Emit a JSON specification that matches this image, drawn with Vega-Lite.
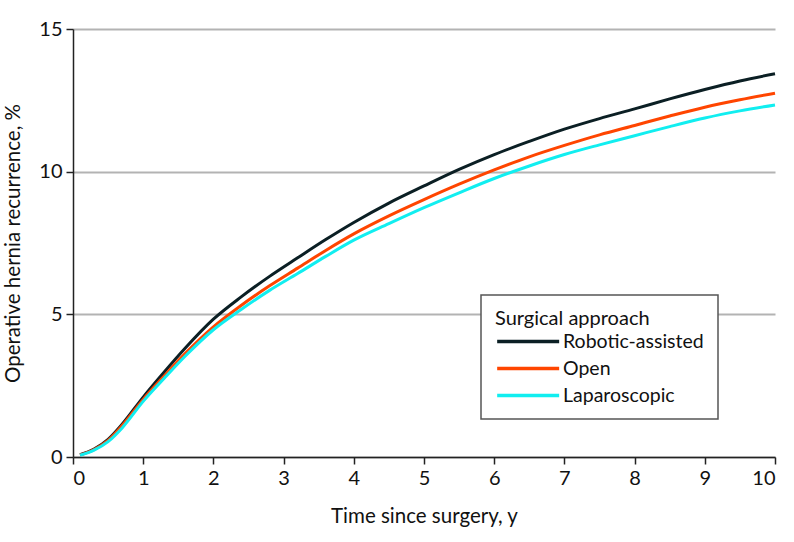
{
  "$schema": "https://vega.github.io/schema/vega-lite/v6.json",
  "autosize": {"type": "none"},
  "padding": {"left": 73, "top": 29, "right": 19, "bottom": 85},
  "width": 702,
  "height": 428,
  "background": "white",
  "config": {
    "view": {"stroke": null},
    "font": "Lato",
    "legend": {"strokeWidth": 1.5},
    "axis": {
      "domainColor": "#222222",
      "domainWidth": 1.5,
      "tickColor": "#222222",
      "tickWidth": 1.5,
      "tickSize": 7,
      "labelFontSize": 20,
      "labelColor": "#111111",
      "titleFontSize": 20.5,
      "titleFontWeight": "normal",
      "titleColor": "#111111",
      "labelPadding": 4
    }
  },
  "data": {
    "values": [
      {"t": 0.1, "g": "Robotic-assisted", "v": 0.08},
      {"t": 0.3, "g": "Robotic-assisted", "v": 0.28},
      {"t": 0.5, "g": "Robotic-assisted", "v": 0.62},
      {"t": 0.7, "g": "Robotic-assisted", "v": 1.15},
      {"t": 1.0, "g": "Robotic-assisted", "v": 2.1},
      {"t": 1.3, "g": "Robotic-assisted", "v": 2.98},
      {"t": 1.6, "g": "Robotic-assisted", "v": 3.82},
      {"t": 2.0, "g": "Robotic-assisted", "v": 4.83},
      {"t": 2.4, "g": "Robotic-assisted", "v": 5.62},
      {"t": 2.8, "g": "Robotic-assisted", "v": 6.33},
      {"t": 3.2, "g": "Robotic-assisted", "v": 6.98},
      {"t": 3.6, "g": "Robotic-assisted", "v": 7.62},
      {"t": 4.0, "g": "Robotic-assisted", "v": 8.22},
      {"t": 4.5, "g": "Robotic-assisted", "v": 8.9},
      {"t": 5.0, "g": "Robotic-assisted", "v": 9.5},
      {"t": 5.5, "g": "Robotic-assisted", "v": 10.08},
      {"t": 6.0, "g": "Robotic-assisted", "v": 10.6},
      {"t": 6.5, "g": "Robotic-assisted", "v": 11.06},
      {"t": 7.0, "g": "Robotic-assisted", "v": 11.49},
      {"t": 7.5, "g": "Robotic-assisted", "v": 11.86},
      {"t": 8.0, "g": "Robotic-assisted", "v": 12.2},
      {"t": 8.5, "g": "Robotic-assisted", "v": 12.55},
      {"t": 9.0, "g": "Robotic-assisted", "v": 12.88},
      {"t": 9.5, "g": "Robotic-assisted", "v": 13.18},
      {"t": 10.0, "g": "Robotic-assisted", "v": 13.43},
      {"t": 0.1, "g": "Open", "v": 0.07},
      {"t": 0.3, "g": "Open", "v": 0.26},
      {"t": 0.5, "g": "Open", "v": 0.58},
      {"t": 0.7, "g": "Open", "v": 1.1},
      {"t": 1.0, "g": "Open", "v": 2.02},
      {"t": 1.3, "g": "Open", "v": 2.84},
      {"t": 1.6, "g": "Open", "v": 3.63},
      {"t": 2.0, "g": "Open", "v": 4.56},
      {"t": 2.4, "g": "Open", "v": 5.32},
      {"t": 2.8, "g": "Open", "v": 6.0},
      {"t": 3.2, "g": "Open", "v": 6.62},
      {"t": 3.6, "g": "Open", "v": 7.24},
      {"t": 4.0, "g": "Open", "v": 7.82},
      {"t": 4.5, "g": "Open", "v": 8.45},
      {"t": 5.0, "g": "Open", "v": 9.02},
      {"t": 5.5, "g": "Open", "v": 9.56},
      {"t": 6.0, "g": "Open", "v": 10.06},
      {"t": 6.5, "g": "Open", "v": 10.52},
      {"t": 7.0, "g": "Open", "v": 10.92},
      {"t": 7.5, "g": "Open", "v": 11.29},
      {"t": 8.0, "g": "Open", "v": 11.62},
      {"t": 8.5, "g": "Open", "v": 11.95},
      {"t": 9.0, "g": "Open", "v": 12.26},
      {"t": 9.5, "g": "Open", "v": 12.52},
      {"t": 10.0, "g": "Open", "v": 12.75},
      {"t": 0.1, "g": "Laparoscopic", "v": 0.06},
      {"t": 0.3, "g": "Laparoscopic", "v": 0.24},
      {"t": 0.5, "g": "Laparoscopic", "v": 0.54},
      {"t": 0.7, "g": "Laparoscopic", "v": 1.02},
      {"t": 1.0, "g": "Laparoscopic", "v": 1.95},
      {"t": 1.3, "g": "Laparoscopic", "v": 2.76},
      {"t": 1.6, "g": "Laparoscopic", "v": 3.54},
      {"t": 2.0, "g": "Laparoscopic", "v": 4.46},
      {"t": 2.4, "g": "Laparoscopic", "v": 5.18},
      {"t": 2.8, "g": "Laparoscopic", "v": 5.84},
      {"t": 3.2, "g": "Laparoscopic", "v": 6.43},
      {"t": 3.6, "g": "Laparoscopic", "v": 7.03},
      {"t": 4.0, "g": "Laparoscopic", "v": 7.6},
      {"t": 4.5, "g": "Laparoscopic", "v": 8.18},
      {"t": 5.0, "g": "Laparoscopic", "v": 8.74},
      {"t": 5.5, "g": "Laparoscopic", "v": 9.26},
      {"t": 6.0, "g": "Laparoscopic", "v": 9.76},
      {"t": 6.5, "g": "Laparoscopic", "v": 10.2},
      {"t": 7.0, "g": "Laparoscopic", "v": 10.6},
      {"t": 7.5, "g": "Laparoscopic", "v": 10.94},
      {"t": 8.0, "g": "Laparoscopic", "v": 11.26},
      {"t": 8.5, "g": "Laparoscopic", "v": 11.58},
      {"t": 9.0, "g": "Laparoscopic", "v": 11.88},
      {"t": 9.5, "g": "Laparoscopic", "v": 12.13},
      {"t": 10.0, "g": "Laparoscopic", "v": 12.34}
    ]
  },
  "mark": {"type": "line", "strokeWidth": 3, "interpolate": "monotone"},
  "encoding": {
    "x": {
      "field": "t",
      "type": "quantitative",
      "scale": {"domain": [0, 10], "nice": false},
      "axis": {"values": [0, 1, 2, 3, 4, 5, 6, 7, 8, 9, 10], "grid": false, "title": "Time since surgery, y", "titlePadding": 18}
    },
    "y": {
      "field": "v",
      "type": "quantitative",
      "scale": {"domain": [0, 15], "nice": false},
      "axis": {"values": [0, 5, 10, 15], "grid": true, "gridColor": "#b3b3b3", "gridWidth": 2, "gridOpacity": 1, "title": "Operative hernia recurrence, %", "titlePadding": 15}
    },
    "color": {
      "field": "g",
      "type": "nominal",
      "sort": ["Robotic-assisted", "Open", "Laparoscopic"],
      "scale": {"domain": ["Robotic-assisted", "Open", "Laparoscopic"], "range": ["#0b1f24", "#ff4500", "#11eef0"]},
      "legend": {
        "title": "Surgical approach",
        "orient": "none",
        "legendX": 408,
        "legendY": 266,
        "padding": 14,
        "fillColor": "white",
        "strokeColor": "#555555",
        "titleFontSize": 20,
        "titleFontWeight": "normal",
        "titleColor": "#111111",
        "titlePadding": 0,
        "labelFontSize": 19.5,
        "labelColor": "#111111",
        "symbolType": "M-1,0H5",
        "symbolSize": 427,
        "symbolStrokeWidth": 3.5,
        "rowPadding": 5,
        "labelOffset": 43
      }
    }
  }
}
